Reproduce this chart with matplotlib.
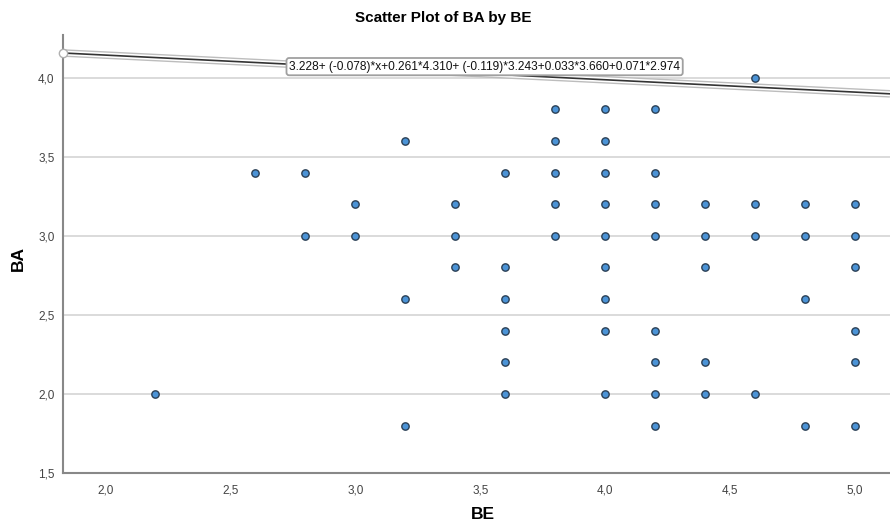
import matplotlib
matplotlib.use('Agg')
import matplotlib.pyplot as plt
import matplotlib.patheffects as pe
import numpy as np

plt.rcParams['font.family'] = ['Liberation Sans', 'DejaVu Sans']

be = [2.2,
      2.6,
      2.8, 2.8,
      3.0, 3.0,
      3.2, 3.2, 3.2,
      3.4, 3.4, 3.4,
      3.6, 3.6, 3.6, 3.6, 3.6, 3.6,
      3.8, 3.8, 3.8, 3.8, 3.8,
      4.0, 4.0, 4.0, 4.0, 4.0, 4.0, 4.0, 4.0, 4.0,
      4.2, 4.2, 4.2, 4.2, 4.2, 4.2, 4.2, 4.2,
      4.4, 4.4, 4.4, 4.4, 4.4,
      4.6, 4.6, 4.6, 4.6,
      4.8, 4.8, 4.8, 4.8,
      5.0, 5.0, 5.0, 5.0, 5.0, 5.0]
ba = [2.0,
      3.4,
      3.4, 3.0,
      3.2, 3.0,
      3.6, 2.6, 1.8,
      3.2, 3.0, 2.8,
      3.4, 2.8, 2.6, 2.4, 2.2, 2.0,
      3.8, 3.6, 3.4, 3.2, 3.0,
      3.8, 3.6, 3.4, 3.2, 3.0, 2.8, 2.6, 2.4, 2.0,
      3.8, 3.4, 3.2, 3.0, 2.4, 2.2, 2.0, 1.8,
      3.2, 3.0, 2.8, 2.2, 2.0,
      4.0, 3.2, 3.0, 2.0,
      3.2, 3.0, 2.6, 1.8,
      3.2, 3.0, 2.8, 2.4, 2.2, 1.8]

# Fit line coefficients (intercept, slope, covariate terms at their means)
intercept = 3.228
slope = -0.078
cov_coefs = [0.261, -0.119, 0.033, 0.071]
cov_means = [4.310, 3.243, 3.660, 2.974]
fit_label = '3.228+ (-0.078)*x+0.261*4.310+ (-0.119)*3.243+0.033*3.660+0.071*2.974'

xticks = [2.0, 2.5, 3.0, 3.5, 4.0, 4.5, 5.0]
yticks = [1.5, 2.0, 2.5, 3.0, 3.5, 4.0]

fig = plt.figure(figsize=(8.9, 5.28), dpi=100)
ax = fig.add_axes([0.0708, 0.1042, 0.9292, 0.8295])

xmin, xmax = 1.83, 5.14
ymin, ymax = 1.5, 4.27

for y in yticks[1:]:
    ax.axhline(y, color='#d4d4d4', linewidth=1.2, zorder=1)

ax.scatter(be, ba, s=28, facecolor='#4b93d6', edgecolor='#2a3f55',
           linewidth=1.0, zorder=3)

const = intercept + sum(c * m for c, m in zip(cov_coefs, cov_means))
xs = np.array([xmin, xmax])
ax.plot(xs, const + slope * xs, color='#333333', linewidth=1.2, zorder=4,
        solid_capstyle='butt',
        path_effects=[pe.Stroke(linewidth=5.5, foreground='#bdbdbd'),
                      pe.Stroke(linewidth=3.5, foreground='white'),
                      pe.Normal()])
ax.plot([xmin], [const + slope * xmin], marker='o', markersize=6,
        markerfacecolor='white', markeredgecolor='#b0b0b0', clip_on=False, zorder=5)

ax.text(2.735, 4.07, fit_label, fontsize=8.6, va='center', ha='left', color='#111111',
        zorder=6,
        bbox=dict(boxstyle='round,pad=0.22', facecolor='white', edgecolor='#a0a0a0',
                  linewidth=1.3))

ax.set_xlim(xmin, xmax)
ax.set_ylim(ymin, ymax)
ax.set_xticks(xticks)
ax.set_yticks(yticks)
ax.set_xticklabels([f'{t:.1f}'.replace('.', ',') for t in xticks])
ax.set_yticklabels([f'{t:.1f}'.replace('.', ',') for t in yticks])
ax.tick_params(length=0, labelsize=8.5, colors='#444444', pad=6)
ax.tick_params(axis='x', pad=8)

for side in ['top', 'right']:
    ax.spines[side].set_visible(False)
for side in ['left', 'bottom']:
    ax.spines[side].set_color('#888888')
    ax.spines[side].set_linewidth(1.5)

fig.text(0.543, 0.025, 'BE', ha='center', va='center', fontsize=12.5, fontweight='bold')
fig.text(0.021, 0.511, 'BA', ha='center', va='center', fontsize=12.5, fontweight='bold',
         rotation=90)
fig.text(0.498, 0.965, 'Scatter Plot of BA by BE', ha='center', va='center',
         fontsize=11, fontweight='bold')

fig.savefig('out.png', dpi=100)
